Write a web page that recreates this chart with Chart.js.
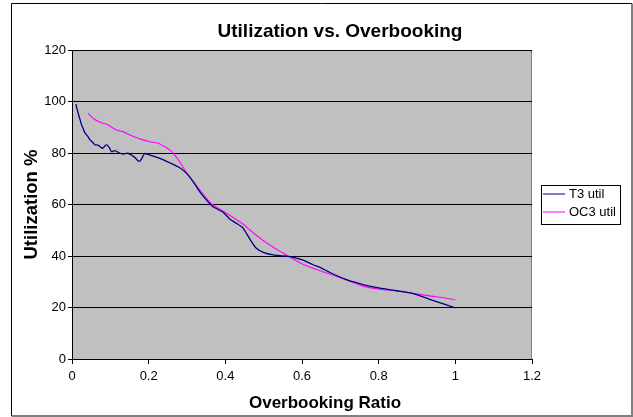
<!DOCTYPE html>
<html>
<head>
<meta charset="utf-8">
<script src="https://cdn.jsdelivr.net/npm/chart.js@4/dist/chart.umd.min.js"></script>
<style>
  html, body { margin: 0; padding: 0; background: #fff; }
  #wrap { width: 633px; height: 417px; }
</style>
</head>
<body>
<div id="wrap"><canvas id="c" width="633" height="417"></canvas></div>
<script>
// Overbooking ratio vs. link utilization (%) for T3 and OC3 links
const t3Ratio = [0.010, 0.016, 0.020, 0.025, 0.029, 0.033, 0.042, 0.046, 0.055, 0.059, 0.068, 0.071,
  0.079, 0.084, 0.088, 0.092, 0.097, 0.103, 0.112, 0.123, 0.133, 0.146, 0.159, 0.166, 0.172, 0.177,
  0.181, 0.186, 0.190, 0.203, 0.229, 0.255, 0.281, 0.299, 0.316, 0.333, 0.351, 0.368, 0.394, 0.412,
  0.430, 0.446, 0.455, 0.468, 0.481, 0.499, 0.525, 0.551, 0.573, 0.603, 0.629, 0.647, 0.673, 0.716,
  0.759, 0.803, 0.847, 0.890, 0.933, 0.977, 1.000];
const t3Util = [99.0, 95.5, 93.5, 90.9, 89.6, 88.0, 86.3, 85.3, 84.0, 83.2, 83.1, 82.7,
  81.8, 82.4, 83.1, 83.0, 82.2, 80.5, 80.9, 80.1, 79.6, 79.9, 78.8, 78.0, 77.0, 76.8,
  77.6, 79.0, 79.8, 79.2, 77.9, 76.2, 74.3, 72.1, 68.9, 65.0, 61.7, 59.1, 57.0, 54.3,
  52.6, 50.9, 48.8, 45.6, 43.0, 41.4, 40.4, 40.0, 39.7, 38.4, 36.6, 35.6, 33.6, 30.8,
  28.9, 27.5, 26.5, 25.4, 23.2, 21.0, 19.9];

const oc3Ratio = [0.042, 0.055, 0.073, 0.094, 0.116, 0.133, 0.151, 0.168, 0.181, 0.203, 0.225,
  0.242, 0.255, 0.268, 0.281, 0.299, 0.325, 0.351, 0.368, 0.403, 0.446, 0.464, 0.494, 0.516,
  0.542, 0.568, 0.594, 0.629, 0.673, 0.716, 0.759, 0.803, 0.847, 0.890, 0.933, 0.977, 1.000];
const oc3Util = [95.4, 93.5, 91.9, 90.9, 88.9, 88.3, 87.0, 86.0, 85.3, 84.4, 83.8,
  82.4, 81.2, 79.2, 76.6, 72.3, 67.2, 62.4, 59.8, 56.6, 52.4, 50.1, 46.5, 44.3,
  41.9, 39.6, 37.4, 35.2, 32.9, 30.7, 28.3, 27.1, 26.4, 25.5, 24.5, 23.6, 22.9];

const seriesNames = ['T3 util', 'OC3 util'];
const seriesColors = ['#000080', '#ff00ff'];
const xTicks = [0, 0.2, 0.4, 0.6, 0.8, 1, 1.2];
const yTicks = [0, 20, 40, 60, 80, 100, 120];
const chartTitle = 'Utilization vs. Overbooking';
const xTitle = 'Overbooking Ratio';
const yTitle = 'Utilization %';

const FONT = '"Liberation Sans", Arial, sans-serif';
const toPoints = (xs, ys) => xs.map((x, i) => ({ x: x, y: ys[i] }));

// Frame, gray plot area, titles and boxed legend
const decor = {
  id: 'decor',
  beforeDraw(chart) {
    const { ctx, chartArea: a } = chart;
    ctx.save();
    ctx.fillStyle = '#ffffff';
    ctx.fillRect(0, 0, chart.width, chart.height);
    ctx.fillStyle = '#c0c0c0';
    ctx.fillRect(a.left, a.top, a.right - a.left, a.bottom - a.top);
    ctx.strokeStyle = '#808080';
    ctx.lineWidth = 1;
    ctx.beginPath();
    ctx.moveTo(a.left, a.top + 0.5);
    ctx.lineTo(a.right - 0.5, a.top + 0.5);
    ctx.lineTo(a.right - 0.5, a.bottom);
    ctx.stroke();
    // outer frame
    ctx.strokeStyle = '#000000';
    ctx.beginPath();
    ctx.moveTo(11.5, 416);
    ctx.lineTo(11.5, 3.5);
    ctx.lineTo(632, 3.5);
    ctx.stroke();
    ctx.strokeStyle = '#808080';
    ctx.lineWidth = 2;
    ctx.beginPath();
    ctx.moveTo(632, 3.5);
    ctx.lineTo(632, 416);
    ctx.lineTo(11.5, 416);
    ctx.stroke();
    ctx.restore();
  },
  afterDraw(chart) {
    const { ctx } = chart;
    ctx.save();
    ctx.fillStyle = '#000';
    ctx.textAlign = 'center';
    ctx.textBaseline = 'middle';
    ctx.font = 'bold 19px ' + FONT;
    ctx.fillText(chartTitle, 340, 32);
    ctx.textBaseline = 'alphabetic';
    ctx.font = 'bold 17px ' + FONT;
    ctx.fillText(xTitle, 325, 407.5);
    // legend
    const lx = 541.5, ly = 185.5, lw = 79, lh = 39;
    ctx.fillStyle = '#fff';
    ctx.fillRect(lx, ly, lw, lh);
    ctx.strokeStyle = '#000';
    ctx.lineWidth = 1;
    ctx.strokeRect(lx, ly, lw, lh);
    ctx.font = '13px ' + FONT;
    ctx.textAlign = 'left';
    ctx.textBaseline = 'middle';
    seriesNames.forEach((name, i) => {
      const y = ly + 8.5 + i * 18;
      ctx.strokeStyle = seriesColors[i];
      ctx.beginPath();
      ctx.moveTo(lx + 1.5, y);
      ctx.lineTo(lx + 23.5, y);
      ctx.stroke();
      ctx.fillStyle = '#000';
      ctx.fillText(name, lx + 27.5, y + 0.5);
    });
    ctx.restore();
  }
};

new Chart(document.getElementById('c'), {
  type: 'line',
  data: {
    datasets: [
      { label: seriesNames[0], data: toPoints(t3Ratio, t3Util), borderColor: seriesColors[0],
        borderWidth: 1.3, pointRadius: 0, tension: 0.2, fill: false },
      { label: seriesNames[1], data: toPoints(oc3Ratio, oc3Util), borderColor: seriesColors[1],
        borderWidth: 1.1, pointRadius: 0, tension: 0.2, fill: false }
    ]
  },
  options: {
    responsive: false,
    animation: false,
    events: [],
    layout: { padding: { left: 0, right: 101, top: 50, bottom: 0 } },
    plugins: { legend: { display: false }, title: { display: false }, tooltip: { enabled: false } },
    scales: {
      x: {
        type: 'linear', min: 0, max: 1.2,
        afterFit(s) { s.height = 58; },
        afterBuildTicks(s) { s.ticks = xTicks.map(v => ({ value: v })); },
        grid: { drawOnChartArea: false, drawTicks: true, tickLength: 5, color: '#000' },
        border: { color: '#000', width: 1 },
        ticks: { color: '#000', font: { family: FONT, size: 13 },
          padding: 5, maxRotation: 0, callback: v => String(v) },
        title: { display: false }
      },
      y: {
        type: 'linear', min: 0, max: 120,
        afterFit(s) { s.width = 72; },
        afterBuildTicks(s) { s.ticks = yTicks.map(v => ({ value: v })); },
        grid: { drawOnChartArea: true, drawTicks: true, tickLength: 4, color: '#000', lineWidth: 1 },
        border: { color: '#000', width: 1 },
        ticks: { color: '#000', font: { family: FONT, size: 13 }, padding: 2 },
        title: { display: true, text: yTitle, color: '#000',
          font: { family: FONT, size: 18.5, weight: 'bold' },
          padding: { top: 21, bottom: 0 } }
      }
    }
  },
  plugins: [decor]
});
</script>
</body>
</html>
